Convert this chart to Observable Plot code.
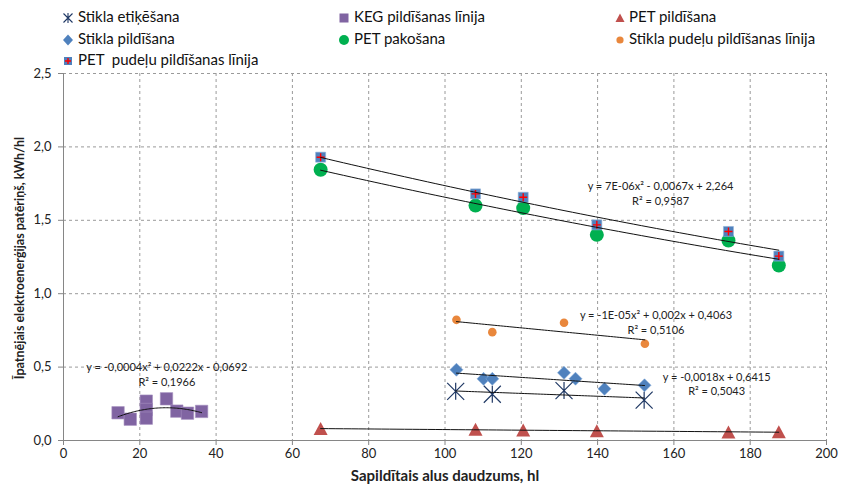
<!DOCTYPE html>
<html><head><meta charset="utf-8">
<script src="https://cdn.jsdelivr.net/npm/d3@7"></script>
<script src="https://cdn.jsdelivr.net/npm/@observablehq/plot@0.6"></script>
<style>
body{margin:0;background:#fff;font-family:Lato,"Open Sans",sans-serif;}
#wrap{width:842px;height:488px;position:relative;overflow:hidden;background:#fff}
#legend{position:relative;width:842px;height:58px}
.lm{position:absolute;width:14px;height:14px}
.lt{position:absolute;font-size:15px;line-height:18px;color:#111;white-space:pre}
#ytitle{position:absolute;left:19px;top:258px;transform:translate(-50%,-50%) rotate(-90deg);white-space:nowrap;font-weight:bold;font-size:12.5px;color:#222}
</style></head>
<body><div id="wrap"><div id="legend"></div><div id="chart"></div><div id="ytitle"></div></div>
<script>
// ---- tick labels ----
const xTicks = [0, 20, 40, 60, 80, 100, 120, 140, 160, 180, 200];
const yTicks = [0, 0.5, 1.0, 1.5, 2.0, 2.5];
const xTitle = "Sapildītais alus daudzums, hl";
const yTitle = "Īpatnējais elektroenerģijas patēriņš, kWh/hl";

// ---- series ----
const petX = [67.4, 108.0, 120.5, 139.8, 174.3, 187.5];
const petPudeluY = [1.93, 1.68, 1.657, 1.469, 1.424, 1.256];
const petPakosanaY = [1.844, 1.60, 1.583, 1.401, 1.362, 1.192];
const petPildisanaY = [0.080, 0.075, 0.071, 0.065, 0.057, 0.058];

const stiklaPudeluX = [103.0, 112.4, 131.2, 152.4];
const stiklaPudeluY = [0.822, 0.738, 0.802, 0.659];

const etiketesanaX = [102.8, 112.4, 131.2, 152.2];
const etiketesanaY = [0.335, 0.315, 0.340, 0.275];

const stiklaPildX = [103.0, 110.1, 112.4, 131.2, 134.2, 141.8, 152.3];
const stiklaPildY = [0.482, 0.420, 0.420, 0.461, 0.421, 0.352, 0.376];

const kegX = [14.3, 17.5, 21.7, 21.7, 21.7, 27.0, 29.7, 32.5, 36.2];
const kegY = [0.189, 0.145, 0.268, 0.211, 0.152, 0.284, 0.200, 0.186, 0.198];

// ---- legend ----
const legendNames = ["Stikla etiķēšana", "KEG pildīšanas līnija", "PET pildīšana",
  "Stikla pildīšana", "PET pakošana", "Stikla pudeļu pildīšanas līnija",
  "PET  pudeļu pildīšanas līnija"];

// ---- trendline equations ----
const eqLabels = [
  "y = 7E-06x² - 0,0067x + 2,264\nR² = 0,9587",
  "y = -1E-05x² + 0,002x + 0,4063\nR² = 0,5106",
  "y = -0,0018x + 0,6415\nR² = 0,5043",
  "y = -0,0004x² + 0,0222x - 0,0692\nR² = 0,1966"
];
const eqX = [156.5, 155.3, 171.2, 27.1];
const eqY = [1.686, 0.811, 0.390, 0.456];

// ---- colours ----
const C = {star:"#1F3864", keg:"#8064A2", tri:"#C0504D", dia:"#4F81BD", green:"#00B050", orange:"#E9873C", red:"#FF0000"};

// ---- least-squares polynomial fit ----
function polyfit(xs, ys, deg) {
  const m = d3.mean(xs);
  const n = deg + 1;
  const A = Array.from({length: n}, () => Array(n + 1).fill(0));
  xs.forEach((x0, i) => {
    const x = x0 - m;
    for (let r = 0; r < n; r++) {
      for (let c = 0; c < n; c++) A[r][c] += Math.pow(x, r + c);
      A[r][n] += ys[i] * Math.pow(x, r);
    }
  });
  for (let i = 0; i < n; i++) {
    let p = i;
    for (let k = i + 1; k < n; k++) if (Math.abs(A[k][i]) > Math.abs(A[p][i])) p = k;
    [A[i], A[p]] = [A[p], A[i]];
    for (let k = 0; k < n; k++) if (k !== i) {
      const f = A[k][i] / A[i][i];
      for (let c = i; c <= n; c++) A[k][c] -= f * A[i][c];
    }
  }
  const coef = A.map((row, i) => row[n] / row[i]);
  return x => coef.reduce((s, c, i) => s + c * Math.pow(x - m, i), 0);
}

const trendDefs = [
  {id: "pud", xs: petX, ys: petPudeluY, deg: 2},
  {id: "pak", xs: petX, ys: petPakosanaY, deg: 2},
  {id: "pil", xs: petX, ys: petPildisanaY, deg: 1},
  {id: "orn", xs: stiklaPudeluX, ys: stiklaPudeluY, deg: 1},
  {id: "dia", xs: stiklaPildX, ys: stiklaPildY, deg: 1},
  {id: "eti", xs: etiketesanaX, ys: etiketesanaY, deg: 1},
  {id: "keg", xs: kegX, ys: kegY, deg: 2}
];
const trendData = trendDefs.flatMap(t => {
  const f = polyfit(t.xs, t.ys, t.deg);
  const [a, b] = d3.extent(t.xs);
  return d3.range(0, 61).map(i => { const x = a + (b - a) * i / 60; return {id: t.id, x, y: f(x)}; });
});

const pts = (xs, ys) => xs.map((x, i) => ({x, y: ys[i]}));

// ---- custom symbols (r = half width) ----
const R = s => Math.sqrt(s / Math.PI);
const symSquare = {draw(c, s) { const r = R(s); c.rect(-r, -r, 2 * r, 2 * r); }};
const symTri = {draw(c, s) { const r = R(s); c.moveTo(0, -r * 0.95); c.lineTo(r, r * 0.9); c.lineTo(-r, r * 0.9); c.closePath(); }};
const symDiamond = {draw(c, s) { const r = R(s); c.moveTo(0, -r); c.lineTo(r, 0); c.lineTo(0, r); c.lineTo(-r, 0); c.closePath(); }};
const symStar = {draw(c, s) { const r = R(s); c.moveTo(-r, -r); c.lineTo(r, r); c.moveTo(r, -r); c.lineTo(-r, r); c.moveTo(0, -r); c.lineTo(0, r); }};
const symPlus = {draw(c, s) { const r = R(s); c.moveTo(0, -r); c.lineTo(0, r); c.moveTo(-r, 0); c.lineTo(r, 0); }};

const comma = d => d.toFixed(1).replace(".", ",");

const chart = Plot.plot({
  width: 842, height: 430,
  marginTop: 15, marginBottom: 48, marginLeft: 63, marginRight: 16,
  x: {domain: [0, 200], label: null},
  y: {domain: [0, 2.5], label: null},
  style: {fontFamily: "Lato, 'Open Sans', sans-serif", fontSize: "13px", background: "white", color: "#222", overflow: "visible"},
  marks: [
    Plot.gridX(xTicks.filter(d => d > 0), {stroke: "#9a9a9a", strokeOpacity: 1, strokeDasharray: "3,3"}),
    Plot.gridY(yTicks.filter(d => d > 0), {stroke: "#9a9a9a", strokeOpacity: 1, strokeDasharray: "3,3"}),
    Plot.ruleX([0], {stroke: "#868686"}),
    Plot.ruleY([0], {stroke: "#868686"}),
    Plot.axisX(xTicks, {tickSize: 5, tickPadding: 3, stroke: "#868686", fill: "#222", fontSize: 13, label: null, tickFormat: d => String(d)}),
    Plot.axisY(yTicks, {tickSize: 5, tickPadding: 7, stroke: "#868686", fill: "#222", fontSize: 13, label: null, tickFormat: comma}),
    // markers
    Plot.dot(pts(kegX, kegY), {x: "x", y: "y", symbol: symSquare, r: 6.2, fill: C.keg, stroke: "#a48fc0", strokeWidth: 0.6}),
    Plot.dot(pts(petX, petPildisanaY), {x: "x", y: "y", symbol: symTri, r: 7, fill: C.tri, stroke: "none"}),
    Plot.dot(pts(stiklaPildX, stiklaPildY), {x: "x", y: "y", symbol: symDiamond, r: 6.5, fill: C.dia, stroke: "#7ea6d6", strokeWidth: 0.6}),
    Plot.dot(pts(petX, petPakosanaY), {x: "x", y: "y", r: 7, fill: C.green, stroke: "none"}),
    Plot.dot(pts(stiklaPudeluX, stiklaPudeluY), {x: "x", y: "y", r: 4.3, fill: C.orange, stroke: "none"}),
    Plot.dot(pts(etiketesanaX, etiketesanaY), {x: "x", y: "y", symbol: symStar, r: 8.5, fill: "none", stroke: C.star, strokeWidth: 1.2}),
    Plot.dot(pts(petX, petPudeluY), {x: "x", y: "y", symbol: symSquare, r: 5, fill: C.dia, stroke: "#8fb0d8", strokeWidth: 0.6}),
    Plot.dot(pts(petX, petPudeluY), {x: "x", y: "y", symbol: symPlus, r: 4, fill: "none", stroke: C.red, strokeWidth: 1.4}),
    // trend lines
    Plot.line(trendData, {x: "x", y: "y", z: "id", stroke: "#111", strokeWidth: 1}),
    // equations
    Plot.text(eqLabels.map((t, i) => ({t, x: eqX[i], y: eqY[i]})), {x: "x", y: "y", text: "t", fontSize: 11, lineHeight: 1.35, fill: "#222", textAnchor: "middle"}),
    // x axis title
    Plot.text([xTitle], {frameAnchor: "bottom", dy: 40, fontSize: 15, fontWeight: "bold", fill: "#222"})
  ]
});
document.getElementById("chart").appendChild(chart);
document.getElementById("ytitle").textContent = yTitle;

// ---- legend (HTML above the chart) ----
const markerSvg = [
  `<path d="M2.5,2.5L11.5,11.5M11.5,2.5L2.5,11.5M7,2V12" stroke="${C.star}" stroke-width="1.1" fill="none"/>`,
  `<rect x="2.5" y="2.5" width="9" height="9" fill="${C.keg}"/>`,
  `<path d="M7,2.5L11.5,11L2.5,11Z" fill="${C.tri}"/>`,
  `<path d="M7,1.5L12,7L7,12.5L2,7Z" fill="${C.dia}"/>`,
  `<circle cx="7" cy="7" r="5" fill="${C.green}"/>`,
  `<circle cx="7" cy="7" r="3.6" fill="${C.orange}"/>`,
  `<rect x="3" y="3" width="8" height="8" fill="${C.dia}"/><path d="M7,4V10M4,7H10" stroke="${C.red}" stroke-width="1.4"/>`
];
const colMarker = [68, 344, 620];
const colText = [78, 354, 629];
const rowY = [16, 37.5, 59];
const legend = document.getElementById("legend");
legendNames.forEach((name, i) => {
  const col = i % 3, row = Math.floor(i / 3);
  const m = document.createElement("div");
  m.className = "lm";
  m.style.left = (colMarker[col] - 7) + "px";
  m.style.top = (rowY[row] - 7) + "px";
  m.innerHTML = `<svg width="14" height="14">${markerSvg[i]}</svg>`;
  legend.appendChild(m);
  const t = document.createElement("div");
  t.className = "lt";
  t.style.left = colText[col] + "px";
  t.style.top = (rowY[row] - 9) + "px";
  t.textContent = name;
  legend.appendChild(t);
});
</script>
</body></html>
